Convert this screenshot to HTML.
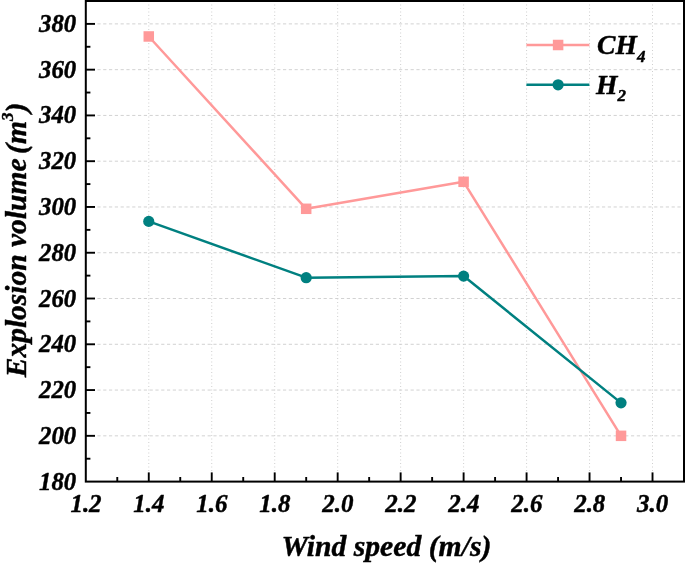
<!DOCTYPE html>
<html><head><meta charset="utf-8"><title>Chart</title>
<style>html,body{margin:0;padding:0;background:#fff;}svg{display:block;will-change:transform;}text{font-family:"Liberation Serif",serif;font-weight:bold;font-style:italic;fill:#000;stroke:#000;stroke-width:0.45px;stroke-linejoin:round;}</style></head><body>
<svg width="685" height="563" viewBox="0 0 685 563">
<rect width="685" height="563" fill="#fff"/>
<g><line x1="148.77" y1="1.0" x2="148.77" y2="481.6" stroke="#cfcfcf" stroke-width="1" stroke-dasharray="1 2.5"/><line x1="211.74" y1="1.0" x2="211.74" y2="481.6" stroke="#cfcfcf" stroke-width="1" stroke-dasharray="1 2.5"/><line x1="274.71" y1="1.0" x2="274.71" y2="481.6" stroke="#cfcfcf" stroke-width="1" stroke-dasharray="1 2.5"/><line x1="337.67" y1="1.0" x2="337.67" y2="481.6" stroke="#cfcfcf" stroke-width="1" stroke-dasharray="1 2.5"/><line x1="400.64" y1="1.0" x2="400.64" y2="481.6" stroke="#cfcfcf" stroke-width="1" stroke-dasharray="1 2.5"/><line x1="463.61" y1="1.0" x2="463.61" y2="481.6" stroke="#cfcfcf" stroke-width="1" stroke-dasharray="1 2.5"/><line x1="526.58" y1="1.0" x2="526.58" y2="481.6" stroke="#cfcfcf" stroke-width="1" stroke-dasharray="1 2.5"/><line x1="589.55" y1="1.0" x2="589.55" y2="481.6" stroke="#cfcfcf" stroke-width="1" stroke-dasharray="1 2.5"/><line x1="652.52" y1="1.0" x2="652.52" y2="481.6" stroke="#cfcfcf" stroke-width="1" stroke-dasharray="1 2.5"/><line x1="85.8" y1="435.83" x2="684.0" y2="435.83" stroke="#d2d2d2" stroke-width="1" stroke-dasharray="3.2 2.6"/><line x1="85.8" y1="390.06" x2="684.0" y2="390.06" stroke="#d2d2d2" stroke-width="1" stroke-dasharray="3.2 2.6"/><line x1="85.8" y1="344.29" x2="684.0" y2="344.29" stroke="#d2d2d2" stroke-width="1" stroke-dasharray="3.2 2.6"/><line x1="85.8" y1="298.51" x2="684.0" y2="298.51" stroke="#d2d2d2" stroke-width="1" stroke-dasharray="3.2 2.6"/><line x1="85.8" y1="252.74" x2="684.0" y2="252.74" stroke="#d2d2d2" stroke-width="1" stroke-dasharray="3.2 2.6"/><line x1="85.8" y1="206.97" x2="684.0" y2="206.97" stroke="#d2d2d2" stroke-width="1" stroke-dasharray="3.2 2.6"/><line x1="85.8" y1="161.20" x2="684.0" y2="161.20" stroke="#d2d2d2" stroke-width="1" stroke-dasharray="3.2 2.6"/><line x1="85.8" y1="115.43" x2="684.0" y2="115.43" stroke="#d2d2d2" stroke-width="1" stroke-dasharray="3.2 2.6"/><line x1="85.8" y1="69.66" x2="684.0" y2="69.66" stroke="#d2d2d2" stroke-width="1" stroke-dasharray="3.2 2.6"/><line x1="85.8" y1="23.89" x2="684.0" y2="23.89" stroke="#d2d2d2" stroke-width="1" stroke-dasharray="3.2 2.6"/></g>
<polyline fill="none" stroke="#FF9999" stroke-width="2.5" stroke-linejoin="round" points="148.77,36.47 306.19,208.80 463.61,181.80 621.03,435.83"/>
<polyline fill="none" stroke="#008080" stroke-width="2.5" stroke-linejoin="round" points="148.77,221.39 306.19,277.69 463.61,276.09 621.03,402.87"/>
<rect x="143.52" y="31.22" width="10.5" height="10.5" fill="#FF9999"/>
<rect x="300.94" y="203.55" width="10.5" height="10.5" fill="#FF9999"/>
<rect x="458.36" y="176.55" width="10.5" height="10.5" fill="#FF9999"/>
<rect x="615.78" y="430.58" width="10.5" height="10.5" fill="#FF9999"/>
<circle cx="148.77" cy="221.39" r="5.6" fill="#008080"/>
<circle cx="306.19" cy="277.69" r="5.6" fill="#008080"/>
<circle cx="463.61" cy="276.09" r="5.6" fill="#008080"/>
<circle cx="621.03" cy="402.87" r="5.6" fill="#008080"/>
<g><line x1="117.28" y1="481.6" x2="117.28" y2="477.0" stroke="#000" stroke-width="1.9"/><line x1="148.77" y1="481.6" x2="148.77" y2="472.40000000000003" stroke="#000" stroke-width="1.9"/><line x1="180.25" y1="481.6" x2="180.25" y2="477.0" stroke="#000" stroke-width="1.9"/><line x1="211.74" y1="481.6" x2="211.74" y2="472.40000000000003" stroke="#000" stroke-width="1.9"/><line x1="243.22" y1="481.6" x2="243.22" y2="477.0" stroke="#000" stroke-width="1.9"/><line x1="274.71" y1="481.6" x2="274.71" y2="472.40000000000003" stroke="#000" stroke-width="1.9"/><line x1="306.19" y1="481.6" x2="306.19" y2="477.0" stroke="#000" stroke-width="1.9"/><line x1="337.67" y1="481.6" x2="337.67" y2="472.40000000000003" stroke="#000" stroke-width="1.9"/><line x1="369.16" y1="481.6" x2="369.16" y2="477.0" stroke="#000" stroke-width="1.9"/><line x1="400.64" y1="481.6" x2="400.64" y2="472.40000000000003" stroke="#000" stroke-width="1.9"/><line x1="432.13" y1="481.6" x2="432.13" y2="477.0" stroke="#000" stroke-width="1.9"/><line x1="463.61" y1="481.6" x2="463.61" y2="472.40000000000003" stroke="#000" stroke-width="1.9"/><line x1="495.09" y1="481.6" x2="495.09" y2="477.0" stroke="#000" stroke-width="1.9"/><line x1="526.58" y1="481.6" x2="526.58" y2="472.40000000000003" stroke="#000" stroke-width="1.9"/><line x1="558.06" y1="481.6" x2="558.06" y2="477.0" stroke="#000" stroke-width="1.9"/><line x1="589.55" y1="481.6" x2="589.55" y2="472.40000000000003" stroke="#000" stroke-width="1.9"/><line x1="621.03" y1="481.6" x2="621.03" y2="477.0" stroke="#000" stroke-width="1.9"/><line x1="652.52" y1="481.6" x2="652.52" y2="472.40000000000003" stroke="#000" stroke-width="1.9"/><line x1="85.8" y1="458.71" x2="90.39999999999999" y2="458.71" stroke="#000" stroke-width="1.9"/><line x1="85.8" y1="435.83" x2="95.0" y2="435.83" stroke="#000" stroke-width="1.9"/><line x1="85.8" y1="412.94" x2="90.39999999999999" y2="412.94" stroke="#000" stroke-width="1.9"/><line x1="85.8" y1="390.06" x2="95.0" y2="390.06" stroke="#000" stroke-width="1.9"/><line x1="85.8" y1="367.17" x2="90.39999999999999" y2="367.17" stroke="#000" stroke-width="1.9"/><line x1="85.8" y1="344.29" x2="95.0" y2="344.29" stroke="#000" stroke-width="1.9"/><line x1="85.8" y1="321.40" x2="90.39999999999999" y2="321.40" stroke="#000" stroke-width="1.9"/><line x1="85.8" y1="298.51" x2="95.0" y2="298.51" stroke="#000" stroke-width="1.9"/><line x1="85.8" y1="275.63" x2="90.39999999999999" y2="275.63" stroke="#000" stroke-width="1.9"/><line x1="85.8" y1="252.74" x2="95.0" y2="252.74" stroke="#000" stroke-width="1.9"/><line x1="85.8" y1="229.86" x2="90.39999999999999" y2="229.86" stroke="#000" stroke-width="1.9"/><line x1="85.8" y1="206.97" x2="95.0" y2="206.97" stroke="#000" stroke-width="1.9"/><line x1="85.8" y1="184.09" x2="90.39999999999999" y2="184.09" stroke="#000" stroke-width="1.9"/><line x1="85.8" y1="161.20" x2="95.0" y2="161.20" stroke="#000" stroke-width="1.9"/><line x1="85.8" y1="138.31" x2="90.39999999999999" y2="138.31" stroke="#000" stroke-width="1.9"/><line x1="85.8" y1="115.43" x2="95.0" y2="115.43" stroke="#000" stroke-width="1.9"/><line x1="85.8" y1="92.54" x2="90.39999999999999" y2="92.54" stroke="#000" stroke-width="1.9"/><line x1="85.8" y1="69.66" x2="95.0" y2="69.66" stroke="#000" stroke-width="1.9"/><line x1="85.8" y1="46.77" x2="90.39999999999999" y2="46.77" stroke="#000" stroke-width="1.9"/><line x1="85.8" y1="23.89" x2="95.0" y2="23.89" stroke="#000" stroke-width="1.9"/></g>
<rect x="85.8" y="1.0" width="598.2" height="480.6" fill="none" stroke="#000" stroke-width="2.0"/>
<text transform="translate(76.2,489.60) scale(0.955,1)" font-size="26.0" text-anchor="end">180</text>
<text transform="translate(76.2,443.83) scale(0.955,1)" font-size="26.0" text-anchor="end">200</text>
<text transform="translate(76.2,398.06) scale(0.955,1)" font-size="26.0" text-anchor="end">220</text>
<text transform="translate(76.2,352.29) scale(0.955,1)" font-size="26.0" text-anchor="end">240</text>
<text transform="translate(76.2,306.51) scale(0.955,1)" font-size="26.0" text-anchor="end">260</text>
<text transform="translate(76.2,260.74) scale(0.955,1)" font-size="26.0" text-anchor="end">280</text>
<text transform="translate(76.2,214.97) scale(0.955,1)" font-size="26.0" text-anchor="end">300</text>
<text transform="translate(76.2,169.20) scale(0.955,1)" font-size="26.0" text-anchor="end">320</text>
<text transform="translate(76.2,123.43) scale(0.955,1)" font-size="26.0" text-anchor="end">340</text>
<text transform="translate(76.2,77.66) scale(0.955,1)" font-size="26.0" text-anchor="end">360</text>
<text transform="translate(76.2,31.89) scale(0.955,1)" font-size="26.0" text-anchor="end">380</text>
<text transform="translate(86.00,511.6) scale(0.975,1)" font-size="25.6" text-anchor="middle">1.2</text>
<text transform="translate(148.97,511.6) scale(0.975,1)" font-size="25.6" text-anchor="middle">1.4</text>
<text transform="translate(211.94,511.6) scale(0.975,1)" font-size="25.6" text-anchor="middle">1.6</text>
<text transform="translate(274.91,511.6) scale(0.975,1)" font-size="25.6" text-anchor="middle">1.8</text>
<text transform="translate(337.87,511.6) scale(0.975,1)" font-size="25.6" text-anchor="middle">2.0</text>
<text transform="translate(400.84,511.6) scale(0.975,1)" font-size="25.6" text-anchor="middle">2.2</text>
<text transform="translate(463.81,511.6) scale(0.975,1)" font-size="25.6" text-anchor="middle">2.4</text>
<text transform="translate(526.78,511.6) scale(0.975,1)" font-size="25.6" text-anchor="middle">2.6</text>
<text transform="translate(589.75,511.6) scale(0.975,1)" font-size="25.6" text-anchor="middle">2.8</text>
<text transform="translate(652.72,511.6) scale(0.975,1)" font-size="25.6" text-anchor="middle">3.0</text>
<text x="386.4" y="556.3" font-size="29.7" text-anchor="middle">Wind speed (m/s)</text>
<text transform="translate(26.1,377.3) rotate(-90)" font-size="29.5">Explosion volume</text>
<text transform="translate(26.1,154.0) rotate(-90)" font-size="29.7">(m<tspan font-size="17" dy="-13">3</tspan><tspan dy="13">)</tspan></text>
<line x1="526.4" y1="45" x2="589.4" y2="45" stroke="#FF9999" stroke-width="2.5"/>
<rect x="552.85" y="39.75" width="10.5" height="10.5" fill="#FF9999"/>
<line x1="526.4" y1="84.8" x2="589.4" y2="84.8" stroke="#008080" stroke-width="2.5"/>
<circle cx="558.1" cy="84.8" r="5.6" fill="#008080"/>
<text x="597" y="54.4" font-size="27.6">CH<tspan font-size="17" dy="7.2">4</tspan></text>
<text x="596" y="93.6" font-size="27.6">H<tspan font-size="17" dy="7">2</tspan></text>
</svg></body></html>
